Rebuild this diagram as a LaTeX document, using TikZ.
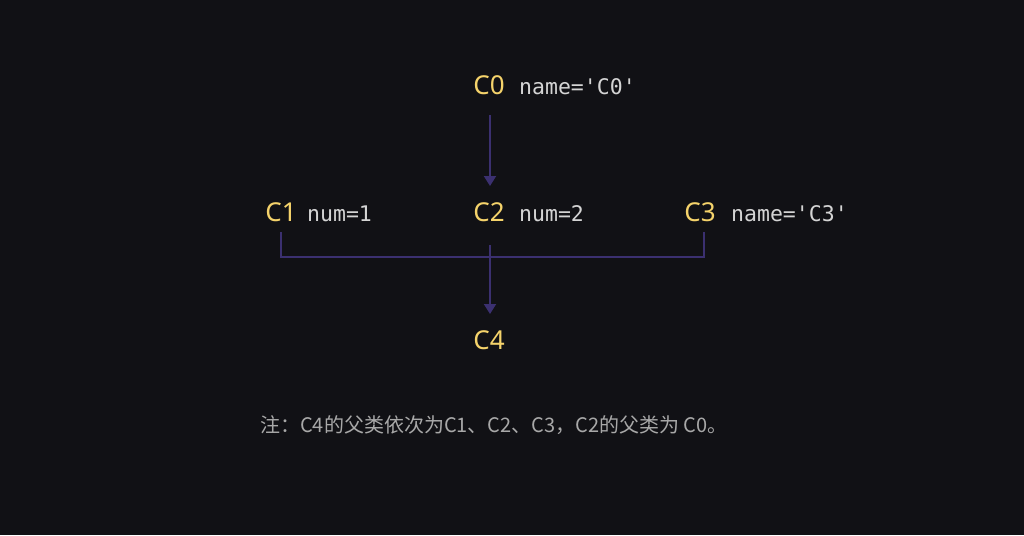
\documentclass[tikz,border=0pt]{standalone}
\usepackage{fontspec}
\setmainfont{Noto Sans}
\newfontfamily\cjk{Noto Sans CJK SC}
\newfontfamily\mono{DejaVu Sans Mono}
\usetikzlibrary{arrows.meta}
\definecolor{bg}{HTML}{111115}
\definecolor{yel}{HTML}{F5D36B}
\definecolor{mtxt}{HTML}{D4D4D4}
\definecolor{ln}{HTML}{3B3070}
\definecolor{note}{HTML}{A8A8A8}
\begin{document}
\begin{tikzpicture}[x=1pt,y=-1pt,
  cls/.style={text=yel,font=\fontsize{26}{28}\selectfont,inner sep=0pt,anchor=base},
  attr/.style={text=mtxt,font=\mono\fontsize{21.5}{24}\selectfont,inner sep=0pt,anchor=base west},
  con/.style={draw=ln,line width=2pt},
  arr/.style={con,-{Triangle[length=10pt,width=12pt]}}]
\fill[bg] (0,0) rectangle (1024,535);
\useasboundingbox (0,0) rectangle (1024,535);
\node[cls] (c0) at (489,94) {C0};
\node[attr] (a0) at (519,94) {name='C0'};
\node[cls] (c1) at (281,221) {C1};
\node[attr] (a1) at (307,221) {num=1};
\node[cls] (c2) at (489,221) {C2};
\node[attr] (a2) at (519,221) {num=2};
\node[cls] (c3) at (700,221) {C3};
\node[attr] (a3) at (731,221) {name='C3'};
\node[cls] (c4) at (489,349) {C4};
\coordinate (t0) at (490,115);
\coordinate (h0) at (490,186);
\coordinate (b1) at (281,232);
\coordinate (b3) at (704,232);
\coordinate (t2) at (490,245);
\coordinate (h2) at (490,314);
\draw[arr] (t0) -- (h0);
\draw[con] (b1) |- (490,257) -| (b3);
\draw[arr] (t2) -- (h2);
\node[text=note,font=\cjk\fontsize{20}{22}\selectfont,anchor=base west,inner sep=0pt] (n) at (260,432) {注：C4的父类依次为C1、C2、C3，C2的父类为 C0。};
\end{tikzpicture}
\end{document}
